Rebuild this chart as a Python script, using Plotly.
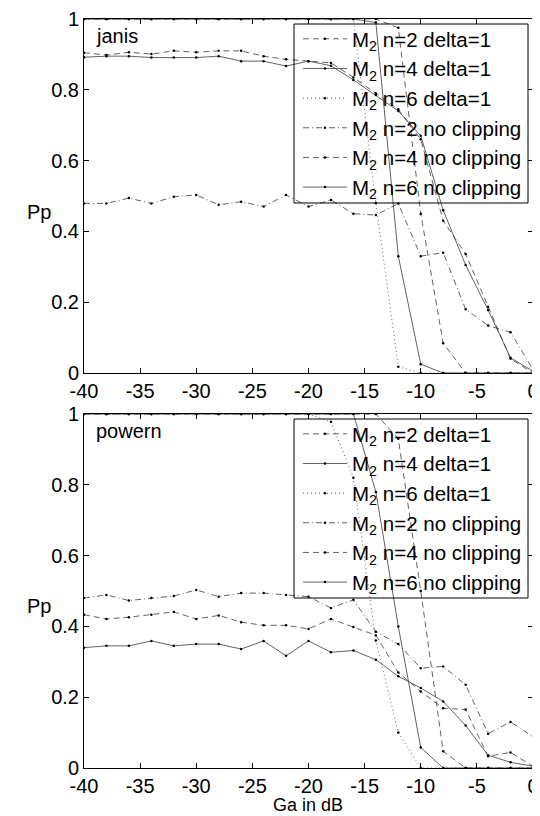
import plotly.graph_objects as go

# ---------------- data ----------------
ga_db = [-40, -38, -36, -34, -32, -30, -28, -26, -24, -22, -20,
         -18, -16, -14, -12, -10, -8, -6, -4, -2, 0]

x_tick_vals = [-40, -35, -30, -25, -20, -15, -10, -5, 0]
x_tick_text = ["-40", "-35", "-30", "-25", "-20", "-15", "-10", "-5", "0"]
y_tick_vals = [0, 0.2, 0.4, 0.6, 0.8, 1]
y_tick_text = ["0", "0.2", "0.4", "0.6", "0.8", "1"]

series_names = ["M<sub>2</sub> n=2 delta=1", "M<sub>2</sub> n=4 delta=1",
                "M<sub>2</sub> n=6 delta=1", "M<sub>2</sub> n=2 no clipping",
                "M<sub>2</sub> n=4 no clipping", "M<sub>2</sub> n=6 no clipping"]

# janis (top panel)
janis_n2_delta = [1, 1, 1, 1, 1, 1, 1, 1, 1, 1, 1,
                  1, 1, 1, 0.975, 0.45, 0.084, 0, 0, 0, 0]
janis_n4_delta = [1, 1, 1, 1, 1, 1, 1, 1, 1, 1, 1,
                  1, 1, 0.99, 0.33, 0.025, 0, 0, 0, 0, 0]
janis_n6_delta = [1, 1, 1, 1, 1, 1, 1, 1, 1, 1, 1,
                  1, 1, 0.48, 0.018, 0, 0, 0, 0, 0, 0]
janis_n2_noclip = [0.479, 0.479, 0.494, 0.479, 0.498, 0.503, 0.475, 0.484, 0.47, 0.503, 0.47,
                   0.489, 0.45, 0.446, 0.479, 0.33, 0.34, 0.18, 0.134, 0.115, 0.01]
janis_n4_noclip = [0.905, 0.898, 0.906, 0.901, 0.91, 0.906, 0.91, 0.91, 0.895, 0.886, 0.881,
                   0.876, 0.835, 0.79, 0.745, 0.66, 0.43, 0.336, 0.187, 0.04, 0]
janis_n6_noclip = [0.892, 0.895, 0.895, 0.891, 0.891, 0.891, 0.895, 0.881, 0.881, 0.867, 0.881,
                   0.868, 0.828, 0.785, 0.74, 0.67, 0.46, 0.305, 0.178, 0.043, 0.005]

# powern (bottom panel)
powern_n2_delta = [1, 1, 1, 1, 1, 1, 1, 1, 1, 1, 1,
                   1, 1, 1, 0.93, 0.5, 0.047, 0, 0, 0, 0]
powern_n4_delta = [1, 1, 1, 1, 1, 1, 1, 1, 1, 1, 1,
                   1, 1, 0.78, 0.4, 0.058, 0, 0, 0, 0, 0]
powern_n6_delta = [1, 1, 1, 1, 1, 1, 1, 1, 1, 1, 1,
                   0.978, 0.82, 0.36, 0.1, 0, 0, 0, 0, 0, 0]
powern_n2_noclip = [0.48, 0.489, 0.473, 0.48, 0.486, 0.503, 0.484, 0.494, 0.494, 0.489, 0.484,
                    0.452, 0.475, 0.385, 0.35, 0.282, 0.287, 0.235, 0.097, 0.13, 0.089]
powern_n4_noclip = [0.433, 0.421, 0.426, 0.433, 0.441, 0.421, 0.431, 0.412, 0.403, 0.403, 0.393,
                    0.421, 0.398, 0.375, 0.27, 0.216, 0.169, 0.165, 0.033, 0.044, 0.005]
powern_n6_noclip = [0.34, 0.345, 0.345, 0.359, 0.345, 0.35, 0.35, 0.336, 0.359, 0.317, 0.359,
                    0.327, 0.332, 0.306, 0.259, 0.226, 0.188, 0.12, 0.036, 0.016, 0.005]

# ---------------- styling ----------------
FONT = "Liberation Sans, Arial, Helvetica, sans-serif"
LINE_COLOR = "#3a3a3a"
dashes = ["6px,4px", "solid", "1px,3px", "6px,3px,1px,3px", "6px,4px", "solid"]

W, H = 540, 816
OFF = 8  # page body margin offset of the figure inside the window

def px_x(p):
    return (p - OFF) / W

def px_y(p):
    return 1 - (p - OFF) / H

fig = go.Figure()

panels = [
    ("x", "y", "legend",
     [janis_n2_delta, janis_n4_delta, janis_n6_delta,
      janis_n2_noclip, janis_n4_noclip, janis_n6_noclip]),
    ("x2", "y2", "legend2",
     [powern_n2_delta, powern_n4_delta, powern_n6_delta,
      powern_n2_noclip, powern_n4_noclip, powern_n6_noclip]),
]

for xa, ya, leg, series in panels:
    for i, (name, vals) in enumerate(zip(series_names, series)):
        fig.add_trace(go.Scatter(
            x=ga_db, y=vals, name=name, xaxis=xa, yaxis=ya,
            mode="lines+markers",
            line=dict(color=LINE_COLOR, width=0.8, dash=dashes[i]),
            marker=dict(color="black", size=2.5),
            legend=leg, legendgroup=f"{leg}_{i}",
        ))

TXT = 20
axis_common = dict(
    showline=True, linecolor="black", linewidth=1, mirror="ticks",
    ticks="inside", ticklen=5, tickcolor="black", tickwidth=1,
    showgrid=False, zeroline=False, automargin=False,
    tickfont=dict(family=FONT, size=TXT, color="black"),
)

x_dom = [px_x(84), px_x(533)]
leg_common = dict(xanchor="left", yanchor="top",
                  bgcolor="rgba(0,0,0,0)", borderwidth=0,
                  font=dict(family=FONT, size=20.5, color="black"),
                  itemwidth=44, tracegroupgap=1.5, traceorder="normal")
fig.update_layout(
    width=W, height=H,
    margin=dict(l=0, r=0, t=0, b=0, autoexpand=False),
    paper_bgcolor="white", plot_bgcolor="white",
    font=dict(family=FONT, color="black"),
    xaxis=dict(domain=x_dom, range=[-40, 0], anchor="y",
               tickvals=x_tick_vals, ticktext=x_tick_text, **axis_common),
    yaxis=dict(domain=[px_y(373), px_y(19)], range=[0, 1], anchor="x",
               tickvals=y_tick_vals, ticktext=y_tick_text, **axis_common),
    xaxis2=dict(domain=x_dom, range=[-40, 0], anchor="y2",
                tickvals=x_tick_vals, ticktext=x_tick_text, **axis_common),
    yaxis2=dict(domain=[px_y(768), px_y(414)], range=[0, 1], anchor="x2",
                tickvals=y_tick_vals, ticktext=y_tick_text, **axis_common),
    legend=dict(x=px_x(298), y=px_y(19), **leg_common),
    legend2=dict(x=px_x(298), y=px_y(414), **leg_common),
    showlegend=True,
)

# legend frames
for top, bot in [(24, 203), (419, 598)]:
    fig.add_shape(type="rect", xref="paper", yref="paper",
                  x0=px_x(294), x1=px_x(528), y0=px_y(bot), y1=px_y(top),
                  line=dict(color="black", width=1), fillcolor="rgba(0,0,0,0)")

ann_font = dict(family=FONT, size=TXT, color="black")
fig.add_annotation(text="janis", x=px_x(94), y=px_y(36), xref="paper", yref="paper",
                   xanchor="left", yanchor="middle", showarrow=False, font=ann_font)
fig.add_annotation(text="powern", x=px_x(94), y=px_y(431), xref="paper", yref="paper",
                   xanchor="left", yanchor="middle", showarrow=False, font=ann_font)
fig.add_annotation(text="Pp", x=px_x(39), y=px_y(212), xref="paper", yref="paper",
                   xanchor="center", yanchor="middle", showarrow=False, font=ann_font)
fig.add_annotation(text="Pp", x=px_x(39), y=px_y(606), xref="paper", yref="paper",
                   xanchor="center", yanchor="middle", showarrow=False, font=ann_font)
fig.add_annotation(text="Ga in dB", x=px_x(308), y=px_y(805), xref="paper", yref="paper",
                   xanchor="center", yanchor="middle", showarrow=False,
                   font=dict(family=FONT, size=18, color="black"))

fig.write_html("out.html")
